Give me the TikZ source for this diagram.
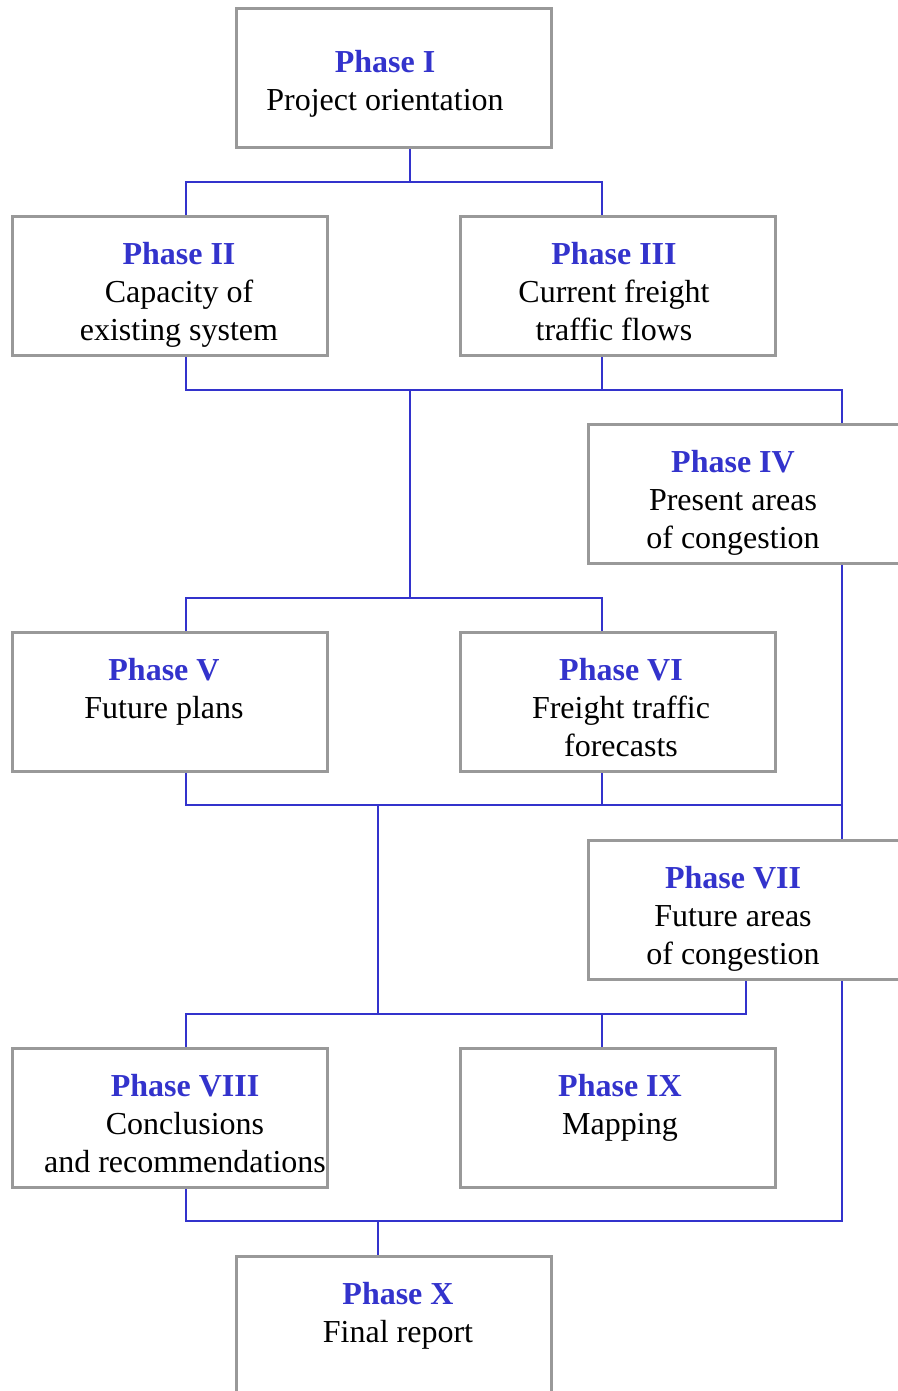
\documentclass[tikz,border=0pt]{standalone}
\usepackage{fontspec}
\setmainfont{Liberation Serif}
\definecolor{phaseblue}{HTML}{3333CC}
\definecolor{boxgray}{HTML}{999999}
\newcommand{\phasetitle}[1]{\textcolor{phaseblue}{\textbf{#1}}}

\begin{document}
\begin{tikzpicture}[x=0.75pt, y=-0.75pt,
		phasebox/.style={draw=boxgray, line width=2.2pt, minimum width=236.5pt, minimum height=104.3pt, inner sep=0pt},
		phasetext/.style={anchor=north, align=center, inner sep=0pt, font=\fontsize{24}{28.5}\selectfont},
		link/.style={draw=phaseblue, line width=2.2pt}]
			\useasboundingbox (0,0) rectangle (897,1391);
			
			\foreach \n/\x/\y in {1/394/78, 2/170/286, 3/618/286, 4/746/494, 5/170/702,
				6/618/702, 7/746/910, 8/170/1118, 9/618/1118, 10/394/1326}{
				\node[phasebox] (p\n) at (\x, \y){};
			}
			
			\node[phasetext] (t1) at (385, 50){\phasetitle{Phase I}\\Project orientation};
			\node[phasetext] (t2) at (179, 242){\phasetitle{Phase II}\\Capacity of\\existing system};
			\node[phasetext] (t3) at (614, 242){\phasetitle{Phase III}\\Current freight\\traffic flows};
			\node[phasetext] (t4) at (733, 450){\phasetitle{Phase IV}\\Present areas\\of congestion};
			\node[phasetext] (t5) at (164, 658){\phasetitle{Phase V}\\Future plans};
			\node[phasetext] (t6) at (621, 658){\phasetitle{Phase VI}\\Freight traffic\\forecasts};
			\node[phasetext] (t7) at (733, 866){\phasetitle{Phase VII}\\Future areas\\of congestion};
			\node[phasetext] (t8) at (185, 1074){\phasetitle{Phase VIII}\\Conclusions\\and recommendations};
			\node[phasetext] (t9) at (620, 1074){\phasetitle{Phase IX}\\Mapping};
			\node[phasetext] (t10) at (398, 1282){\phasetitle{Phase X}\\Final report};
			
			\coordinate (cL) at (186, 0);
			\coordinate (cT) at (378, 0);
			\coordinate (cM) at (410, 0);
			\coordinate (cR) at (602, 0);
			\coordinate (cE) at (842, 0);
			\coordinate (b1) at (0, 182);
			\coordinate (b2) at (0, 390);
			\coordinate (b3) at (0, 598);
			\coordinate (b4) at (0, 805);
			\coordinate (b5) at (0, 1014);
			\coordinate (b6) at (0, 1221);
			
			\draw[link] (p1.south -| cM) -- (cM |- b1);
			\draw[link] (p2.north -| cL) -- (cL |- b1) -- (cR |- b1) -- (p3.north -| cR);
			
			\draw[link] (p2.south -| cL) -- (cL |- b2) -- (cE |- b2) -- (p4.north -| cE);
			\draw[link] (p3.south -| cR) -- (cR |- b2);
			\draw[link] (cM |- b2) -- (cM |- b3);
			\draw[link] (p5.north -| cL) -- (cL |- b3) -- (cR |- b3) -- (p6.north -| cR);
			
			\draw[link] (p4.south -| cE) -- (p7.north -| cE);
			\draw[link] (p5.south -| cL) -- (cL |- b4) -- (cE |- b4);
			\draw[link] (p6.south -| cR) -- (cR |- b4);
			\draw[link] (cT |- b4) -- (cT |- b5);
			\draw[link] (p8.north -| cL) -- (cL |- b5) -- (p7.south |- b5) -- (p7.south);
			\draw[link] (p9.north -| cR) -- (cR |- b5);
			
			\draw[link] (p7.south -| cE) -- (cE |- b6) -- (cL |- b6) -- (p8.south -| cL);
			\draw[link] (cT |- b6) -- (p10.north -| cT);
		\end{tikzpicture}
\end{document}
